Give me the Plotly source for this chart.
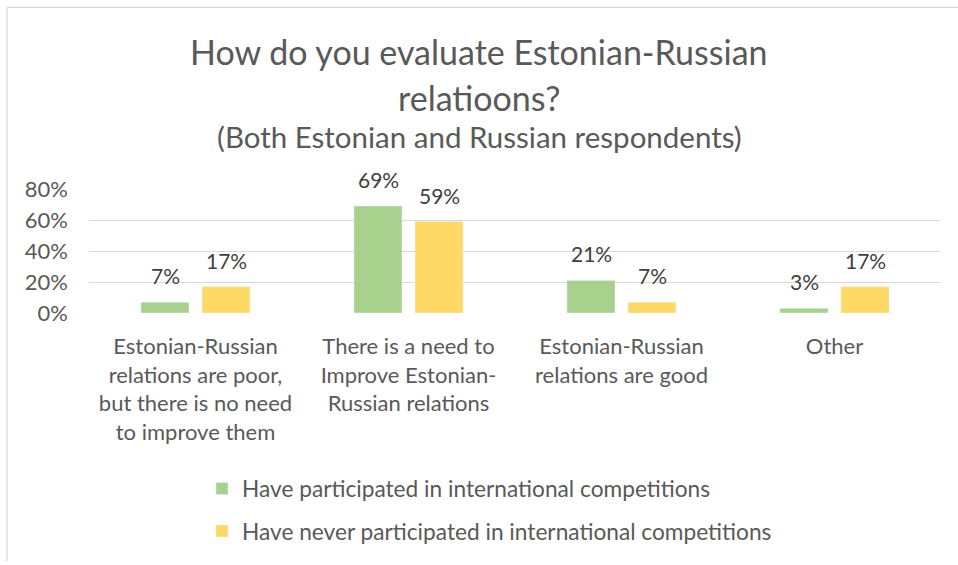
import plotly.graph_objects as go

categories = [
    "Estonian-Russian<br>relations are poor,<br>but there is no need<br>to improve them",
    "There is a need to<br>Improve Estonian-<br>Russian relations",
    "Estonian-Russian<br>relations are good",
    "Other",
]
participated = [0.07, 0.69, 0.21, 0.03]
never_participated = [0.17, 0.59, 0.07, 0.17]
series_names = [
    "Have participated in international competitions",
    "Have never participated in international competitions",
]
series_colors = ["#a9d18e", "#ffd966"]
y_ticks = [0, 0.2, 0.4, 0.6, 0.8]
y_tick_labels = ["0%", "20%", "40%", "60%", "80%"]
title_lines = ["How do you evaluate Estonian-Russian", "relatioons?"]
subtitle = "(Both Estonian and Russian respondents)"

FONT = "Lato, Carlito, Calibri, sans-serif"
TEXT = "#595959"
LABEL = "#404040"
PLOT_L, PLOT_W, PLOT_H = 89, 852, 127  # plot-area geometry in px
FIG_W = 958

fig = go.Figure()
series = [participated, never_participated]
for i, (name, vals, color) in enumerate(zip(series_names, series, series_colors)):
    fig.add_trace(go.Bar(
        x=categories, y=vals, name=name, marker_color=color,
        legendgroup=f"g{i}", hoverinfo="x+y",
    ))
    # value labels above each bar (side-by-side offset within the group)
    shift = -30.5 if i == 0 else 30.5
    for c, v in zip(categories, vals):
        fig.add_annotation(
            x=c, y=v, xref="x", yref="y", text=f"{round(v * 100)}%",
            showarrow=False, xshift=shift, yshift=12, yanchor="bottom",
            font=dict(size=21, color=LABEL, family=FONT),
        )

# title block, centred on the whole figure width
title_x = (FIG_W / 2 - PLOT_L) / PLOT_W
for text, ypix, size in [(title_lines[0], 48, 34), (title_lines[1], 95, 34), (subtitle, 135, 29.5)]:
    fig.add_annotation(
        xref="paper", yref="paper", x=title_x, y=(316 - ypix) / PLOT_H,
        text=text, showarrow=False, xanchor="center", yanchor="middle",
        font=dict(size=size, color=TEXT, family=FONT),
    )

fig.update_layout(
    width=FIG_W, height=565,
    margin=dict(l=PLOT_L, r=FIG_W - PLOT_L - PLOT_W, t=189, b=249),
    paper_bgcolor="white", plot_bgcolor="white",
    font=dict(family=FONT, color=TEXT, size=21),
    barmode="group", bargap=0.427, bargroupgap=0.213,
    xaxis=dict(showline=False, ticks="", tickfont=dict(size=22, color=TEXT),
               ticklabelstandoff=18),
    yaxis=dict(range=[0, 0.8], tickvals=y_ticks, ticktext=y_tick_labels,
               showgrid=True, gridcolor="#d9d9d9", gridwidth=1.3,
               zeroline=False, tickfont=dict(size=22, color=TEXT), ticklabelstandoff=20),
    legend=dict(orientation="v", x=(202 - PLOT_L) / PLOT_W, xanchor="left",
                y=(316 - 474) / PLOT_H, yanchor="top",
                font=dict(size=22.7, color=TEXT), tracegroupgap=10,
                bgcolor="rgba(0,0,0,0)"),
    showlegend=True,
)

# light chart-area border along the left and top edges
border_top = (316 - 3) / PLOT_H
border_left = (7 - PLOT_L) / PLOT_W
fig.add_shape(type="line", xref="paper", yref="paper", x0=border_left, x1=1.2,
              y0=border_top, y1=border_top, line=dict(color="#d9d9d9", width=1.3))
fig.add_shape(type="line", xref="paper", yref="paper", x0=border_left, x1=border_left,
              y0=border_top, y1=-2.0, line=dict(color="#d9d9d9", width=1.3))

fig.write_html("out.html")
